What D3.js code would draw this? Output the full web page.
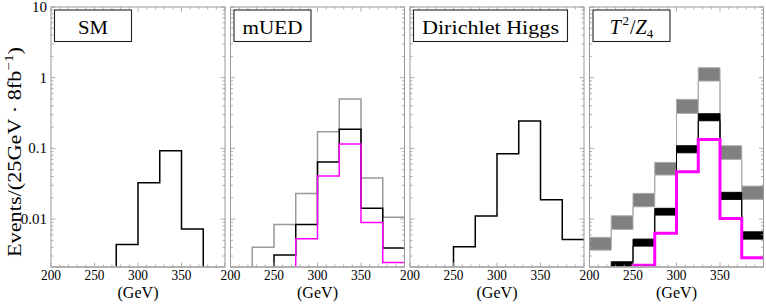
<!DOCTYPE html>
<html><head><meta charset="utf-8">
<script src="https://cdn.jsdelivr.net/npm/d3@7"></script>
<style>
html,body{margin:0;padding:0;background:#fff;}
svg{display:block;font-family:"Liberation Serif","DejaVu Serif",serif;}
</style></head>
<body>
<svg id="chart" width="766" height="306"></svg>
<script>
// ---- data ----
const binEdges = [200, 225, 250, 275, 300, 325, 350, 375, 400];
const xTicks = [200, 250, 300, 350];
const yTicks = [10, 1, 0.1, 0.01];
const yTickLabels = ["10", "1", "0.1", "0.01"];
const panelTitles = ["SM", "mUED", "Dirichlet Higgs", "T2/Z4"];

const smBlack      = [0, 0, 0, 0.00438, 0.0327, 0.0927, 0.00723, 0];
const muedGray     = [0, 0.00398, 0.0084, 0.0231, 0.172, 0.499, 0.038, 0.0106];
const muedBlack    = [0, 0, 0.0031, 0.0084, 0.064, 0.186, 0.0142, 0.00389];
const muedMagenta  = [0, 0, 0, 0.00527, 0.0406, 0.115, 0.00897, 0.00244];
const dhBlack      = [0, 0, 0.00406, 0.0111, 0.0839, 0.244, 0.0188, 0.00516];
const t2GrayHigh   = [0.00551, 0.01114, 0.0231, 0.0634, 0.494, 1.384, 0.109, 0.0293];
const t2GrayLow    = [0.00364, 0.00715, 0.01493, 0.0420, 0.313, 0.897, 0.070, 0.0190];
const t2BlackHigh  = [0, 0.00249, 0.00521, 0.0142, 0.109, 0.309, 0.0239, 0.0066];
const t2BlackLow   = [0, 0.0018, 0.00415, 0.0114, 0.0867, 0.246, 0.0190, 0.00521];
const t2Magenta    = [0, 0, 0.00223, 0.00628, 0.0467, 0.134, 0.0102, 0.00284];

// ---- layout ----
const svg = d3.select("#chart");
const topY = 7, bottomY = 267, pw = 174;
const lefts = [51, 230.5, 410, 589.5];
const boxW = [77, 77, 154, 77];
const frameColor = "#999";
const y = d3.scaleLog().domain([0.0021, 10]).range([bottomY, topY]);
const floorY = bottomY + 6;
const yv = v => v > 0 ? y(v) : floorY;

const defs = svg.append("defs");

function stepPath(x, vals) {
  let p = `M${x(binEdges[0])},${yv(vals[0])}`;
  for (let i = 0; i < vals.length; i++) {
    if (i > 0) p += `V${yv(vals[i])}`;
    p += `H${x(binEdges[i + 1])}`;
  }
  return p;
}

const panels = lefts.map((lx, i) => {
  const x = d3.scaleLinear().domain([200, 400]).range([lx, lx + pw]);
  const g = svg.append("g");
  defs.append("clipPath").attr("id", "clip" + i)
    .append("rect").attr("x", lx).attr("y", topY).attr("width", pw).attr("height", bottomY - topY);
  const plot = g.append("g").attr("clip-path", `url(#clip${i})`);
  return {x, g, plot, lx, i};
});

// ---- marks ----
function drawStep(p, vals, color, w) {
  p.plot.append("path").attr("d", stepPath(p.x, vals))
    .attr("fill", "none").attr("stroke", color).attr("stroke-width", w)
    .attr("stroke-linejoin", "miter");
}
function drawBand(p, hi, lo, fill, lineColor) {
  const bins = d3.range(hi.length).filter(k => hi[k] > 0);
  p.plot.selectAll(null).data(bins).enter().append("rect")
    .attr("x", k => p.x(binEdges[k])).attr("width", k => p.x(binEdges[k + 1]) - p.x(binEdges[k]))
    .attr("y", k => yv(hi[k])).attr("height", k => yv(lo[k]) - yv(hi[k]))
    .attr("fill", fill);
  drawStep(p, hi, lineColor, 1);
  drawStep(p, lo, lineColor, 1);
}

drawStep(panels[0], smBlack, "#000", 1.5);

drawStep(panels[1], muedGray, "#999", 1.5);
drawStep(panels[1], muedBlack, "#000", 1.5);
drawStep(panels[1], muedMagenta, "#ff00ff", 1.5);

drawStep(panels[2], dhBlack, "#000", 1.5);

drawBand(panels[3], t2GrayHigh, t2GrayLow, "#808080", "#aaa");
drawBand(panels[3], t2BlackHigh, t2BlackLow, "#000", "#000");
drawStep(panels[3], t2Magenta, "#ff00ff", 3);

// ---- frames, ticks ----
const minorX = d3.range(200, 401, 10);
const minorY = [];
[0.001, 0.01, 0.1, 1].forEach(d => { for (let k = 2; k <= 9; k++) minorY.push(d * k); });
const minorYIn = minorY.filter(v => v >= 0.0021 && v <= 10);

panels.forEach(p => {
  const g = p.g, x = p.x, lx = p.lx, rx = lx + pw;
  const tk = g.append("g").attr("stroke", frameColor).attr("stroke-width", 0.8);
  minorX.forEach(v => {
    const len = v % 50 === 0 ? 4.5 : 2.5;
    tk.append("line").attr("x1", x(v)).attr("x2", x(v)).attr("y1", bottomY).attr("y2", bottomY - len);
    tk.append("line").attr("x1", x(v)).attr("x2", x(v)).attr("y1", topY).attr("y2", topY + len);
  });
  yTicks.forEach(v => {
    tk.append("line").attr("x1", lx).attr("x2", lx + 4.5).attr("y1", y(v)).attr("y2", y(v));
    tk.append("line").attr("x1", rx).attr("x2", rx - 4.5).attr("y1", y(v)).attr("y2", y(v));
  });
  minorYIn.forEach(v => {
    tk.append("line").attr("x1", lx).attr("x2", lx + 2.5).attr("y1", y(v)).attr("y2", y(v));
    tk.append("line").attr("x1", rx).attr("x2", rx - 2.5).attr("y1", y(v)).attr("y2", y(v));
  });
  g.append("rect").attr("x", lx).attr("y", topY).attr("width", pw).attr("height", bottomY - topY)
    .attr("fill", "none").attr("stroke", frameColor).attr("stroke-width", 1);
  g.append("line").attr("x1", lx).attr("x2", rx).attr("y1", bottomY).attr("y2", bottomY)
    .attr("stroke", "#aaa").attr("stroke-width", 1.6);

  // x tick labels
  g.selectAll(null).data(xTicks).enter().append("text")
    .attr("x", d => x(d)).attr("y", 280).attr("text-anchor", "middle")
    .attr("font-size", 14).attr("textLength", 20).attr("lengthAdjust", "spacingAndGlyphs")
    .attr("fill", "#000").text(d => d);
  g.append("text").attr("x", lx + pw / 2).attr("y", 298).attr("text-anchor", "middle")
    .attr("font-size", 16).attr("textLength", 41).attr("lengthAdjust", "spacingAndGlyphs")
    .attr("fill", "#000").text("(GeV)");

  // title box
  const bx = lx + 3.5, bw = boxW[p.i];
  g.append("rect").attr("x", bx).attr("y", 10).attr("width", bw).attr("height", 31.5)
    .attr("fill", "#fff").attr("stroke", "#222").attr("stroke-width", 1.1);
  const t = g.append("text").attr("x", bx + bw / 2).attr("y", 34).attr("text-anchor", "middle")
    .attr("font-size", 19).attr("fill", "#000");
  if (p.i === 3) {
    t.attr("font-size", 20);
    t.append("tspan").attr("font-style", "italic").text("T");
    t.append("tspan").attr("font-size", 13).attr("dy", -9).attr("dx", 1.5).text("2");
    t.append("tspan").attr("dy", 9).attr("dx", 1).text("/");
    t.append("tspan").attr("font-style", "italic").text("Z");
    t.append("tspan").attr("font-size", 13).attr("dy", 4).text("4");
  } else {
    const widths = [30, 60, 137];
    t.attr("textLength", widths[p.i]).attr("lengthAdjust", "spacingAndGlyphs").text(panelTitles[p.i]);
  }
});

// y tick labels (first panel only)
svg.append("g").selectAll(null).data(yTicks).enter().append("text")
  .attr("x", 47).attr("y", d => y(d) + 5).attr("text-anchor", "end")
  .attr("font-size", 15).attr("fill", "#000").text((d, k) => yTickLabels[k]);

// y axis title
const yt = svg.append("text").attr("transform", "translate(21,152) rotate(-90)")
  .attr("text-anchor", "middle").attr("font-size", 19).attr("fill", "#000")
  .attr("textLength", 210).attr("lengthAdjust", "spacingAndGlyphs");
yt.append("tspan").text("Events/(25GeV \u00B7 8fb");
yt.append("tspan").attr("font-size", 13).attr("dy", -8).text("\u22121");
yt.append("tspan").attr("dy", 8).text(")");
</script>
</body></html>
